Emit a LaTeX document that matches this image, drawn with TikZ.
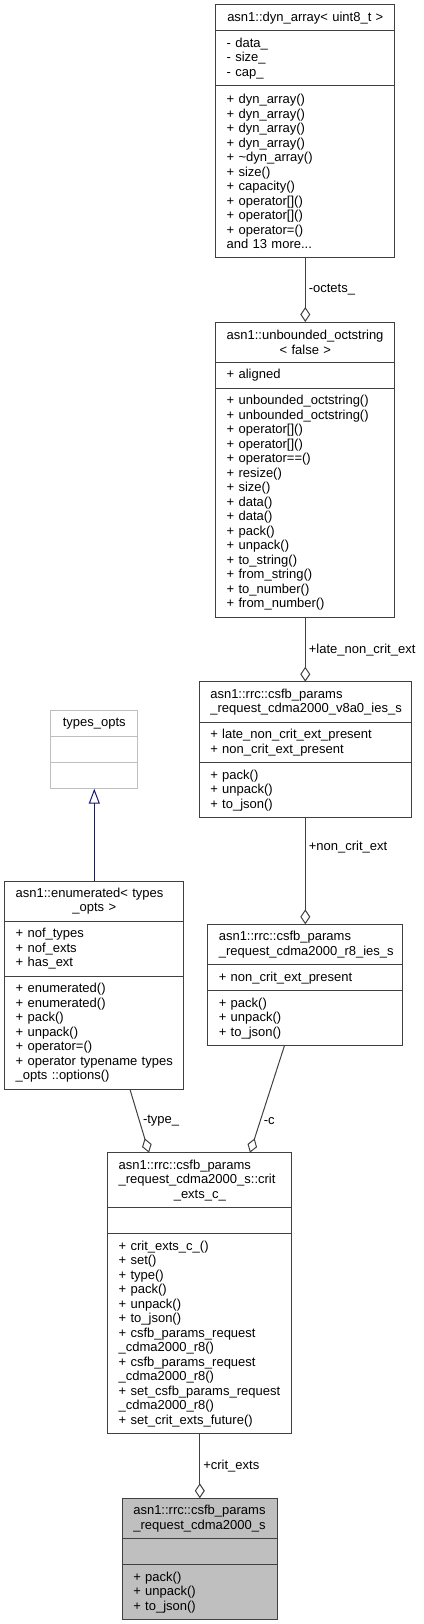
\documentclass[tikz,border=0pt]{standalone}
\usepackage{fontspec}
\setmainfont{Liberation Sans}
\usepackage{tikz}
\usetikzlibrary{arrows.meta,positioning}
\definecolor{edgegrey}{HTML}{404040}
\definecolor{basegrey}{HTML}{BFBFBF}
\definecolor{inheritblue}{HTML}{191970}
\newcommand{\ctrline}[1]{\hspace*{\fill}#1\hspace*{\fill}\mbox{}}

\begin{document}
\begin{tikzpicture}[
  x=1pt,y=-1pt,
  part/.style={draw=edgegrey,line width=1pt,outer sep=0pt,inner xsep=11pt,inner ysep=0pt,
    align=left,font=\fontsize{13}{14.5}\selectfont,text width={#1-22pt}},
  rows/.style={minimum height={#1*14.5pt+11.5pt}},
  agg/.style={edgegrey,line width=1pt,-{Diamond[open,length=15pt,width=10pt]}},
  inherit/.style={inheritblue,line width=1pt,-{Triangle[open,length=15pt,width=11pt]}},
  lbl/.style={right,inner sep=3pt,text=black,font=\fontsize{13}{14.5}\selectfont}
]
  \useasboundingbox (0,0) rectangle (423,1624);

  \node[part=179.3pt,rows=1,anchor=north] (dynT) at (305.3,5) {\ctrline{asn1::dyn\_array< uint8\_t >}};
  \node[part=179.3pt,rows=3,below=0pt of dynT] (dynA) {- data\_\\- size\_\\- cap\_};
  \node[part=179.3pt,rows=11,below=0pt of dynA] (dynM) {+ dyn\_array()\\+ dyn\_array()\\+ dyn\_array()\\+ dyn\_array()\\+ \textasciitilde dyn\_array()\\+ size()\\+ capacity()\\+ operator[]()\\+ operator[]()\\+ operator=()\\and 13 more...};

  \node[part=179.3pt,rows=2,anchor=north] (octT) at (305.3,322) {asn1::unbounded\_octstring\\\ctrline{< false >}};
  \node[part=179.3pt,rows=1,below=0pt of octT] (octA) {+ aligned};
  \node[part=179.3pt,rows=15,below=0pt of octA] (octM) {+ unbounded\_octstring()\\+ unbounded\_octstring()\\+ operator[]()\\+ operator[]()\\+ operator==()\\+ resize()\\+ size()\\+ data()\\+ data()\\+ pack()\\+ unpack()\\+ to\_string()\\+ from\_string()\\+ to\_number()\\+ from\_number()};

  \node[part=86.7pt,rows=1,draw=basegrey,anchor=north] (typT) at (94.3,710.7) {\ctrline{types\_opts}};
  \node[part=86.7pt,rows=1,draw=basegrey,below=0pt of typT] (typA) {};
  \node[part=86.7pt,rows=1,draw=basegrey,below=0pt of typA] (typM) {};

  \node[part=212pt,rows=2,anchor=north] (v8aT) at (305.3,681.7) {asn1::rrc::csfb\_params\\\_request\_cdma2000\_v8a0\_ies\_s};
  \node[part=212pt,rows=2,below=0pt of v8aT] (v8aA) {+ late\_non\_crit\_ext\_present\\+ non\_crit\_ext\_present};
  \node[part=212pt,rows=3,below=0pt of v8aA] (v8aM) {+ pack()\\+ unpack()\\+ to\_json()};

  \node[part=179.3pt,rows=2,anchor=north] (enumT) at (94.3,881) {asn1::enumerated< types\\\ctrline{\_opts >}};
  \node[part=179.3pt,rows=3,below=0pt of enumT] (enumA) {+ nof\_types\\+ nof\_exts\\+ has\_ext};
  \node[part=179.3pt,rows=7,below=0pt of enumA] (enumM) {+ enumerated()\\+ enumerated()\\+ pack()\\+ unpack()\\+ operator=()\\+ operator typename types\\\_opts ::options()};

  \node[part=195pt,rows=2,anchor=north] (r8T) at (305.3,924.3) {asn1::rrc::csfb\_params\\\_request\_cdma2000\_r8\_ies\_s};
  \node[part=195pt,rows=1,below=0pt of r8T] (r8A) {+ non\_crit\_ext\_present};
  \node[part=195pt,rows=3,below=0pt of r8A] (r8M) {+ pack()\\+ unpack()\\+ to\_json()};

  \node[part=184.3pt,rows=3,anchor=north] (critT) at (199.8,1152.7) {asn1::rrc::csfb\_params\\\_request\_cdma2000\_s::crit\\\ctrline{\_exts\_c\_}};
  \node[part=184.3pt,rows=1,below=0pt of critT] (critA) {};
  \node[part=184.3pt,rows=13,below=0pt of critA] (critM) {+ crit\_exts\_c\_()\\+ set()\\+ type()\\+ pack()\\+ unpack()\\+ to\_json()\\+ csfb\_params\_request\\\_cdma2000\_r8()\\+ csfb\_params\_request\\\_cdma2000\_r8()\\+ set\_csfb\_params\_request\\\_cdma2000\_r8()\\+ set\_crit\_exts\_future()};

  \node[part=155pt,rows=2,fill=basegrey,anchor=north] (mainT) at (199.8,1498.3) {asn1::rrc::csfb\_params\\\_request\_cdma2000\_s};
  \node[part=155pt,rows=1,fill=basegrey,below=0pt of mainT] (mainA) {};
  \node[part=155pt,rows=3,fill=basegrey,below=0pt of mainA] (mainM) {+ pack()\\+ unpack()\\+ to\_json()};

  \path[inherit] (enumT) edge (typM);
  \path[agg]
    (dynM) edge node[lbl] {-octets\_} (octT)
    (octM) edge node[lbl] {+late\_non\_crit\_ext} (v8aT)
    (v8aM) edge node[lbl,pos=.28] {+non\_crit\_ext} (r8T)
    ([xshift=35.7pt]enumM.south) edge node[lbl] {-type\_} ([xshift=-50.8pt]critT.north)
    ([xshift=-20.9pt]r8M.south) edge node[lbl,pos=.7] {-c} ([xshift=50.2pt]critT.north)
    (critM) edge node[lbl] {+crit\_exts} (mainT);
\end{tikzpicture}
\end{document}
